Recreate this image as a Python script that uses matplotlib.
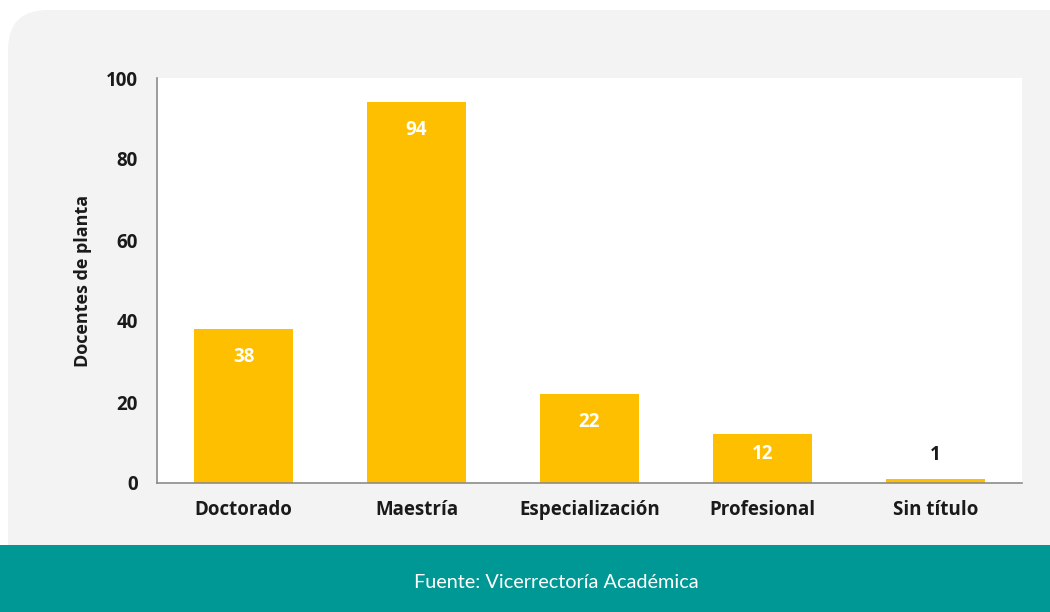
import matplotlib.pyplot as plt
from matplotlib.patches import FancyBboxPatch, Rectangle

categorias = ["Doctorado", "Maestría", "Especialización", "Profesional", "Sin título"]
docentes = [38, 94, 22, 12, 1]
yticks = [0, 20, 40, 60, 80, 100]

W, H = 1050, 612
fig = plt.figure(figsize=(W / 100, H / 100), dpi=100)
fig.patch.set_facecolor("white")

# panel gris con esquina redondeada (la parte baja queda bajo la franja)
panel = FancyBboxPatch((8 / W, 0), 1.2, (H - 10) / H,
                       boxstyle="round,pad=0,rounding_size=0.038",
                       transform=fig.transFigure, facecolor="#f3f3f3",
                       edgecolor="none", zorder=-3, mutation_aspect=W / H)
fig.patches.append(panel)
# franja inferior
fig.patches.append(Rectangle((0, 0), 1, 67 / H, transform=fig.transFigure,
                             facecolor="#009894", edgecolor="none", zorder=-2))
fig.text(0.53, 30 / H, "Fuente: Vicerrectoría Académica", color="white",
         fontsize=14.3, family="Lato", ha="center", va="center")

ax = fig.add_axes([157 / W, (H - 483) / H, (1022 - 157) / W, (483 - 78) / H])
ax.set_facecolor("white")
x = range(len(categorias))
bars = ax.bar(x, docentes, width=0.57, color="#fdbf00", zorder=2)
ax.set_xlim(-0.5, 4.5)
ax.set_ylim(0, 100)
ax.set_yticks(yticks)
ax.set_xticks(list(x))
ax.set_xticklabels(categorias)
for lab in ax.get_xticklabels() + ax.get_yticklabels():
    lab.set_fontweight("bold")
    lab.set_fontsize(13.5)
    lab.set_family("Open Sans")
    lab.set_color("#1a1a1a")
ax.tick_params(length=0)
ax.tick_params(axis="x", pad=12)
ax.tick_params(axis="y", pad=14)
for s in ["top", "right"]:
    ax.spines[s].set_visible(False)
for s in ["left", "bottom"]:
    ax.spines[s].set_color("#8c8c8c")
    ax.spines[s].set_linewidth(1.2)
ax.set_ylabel("Docentes de planta", fontsize=13, fontweight="bold",
              family="Open Sans", labelpad=10, color="#1a1a1a")

px_per_unit = (483 - 78) / 100
for b, v in zip(bars, docentes):
    cx = b.get_x() + b.get_width() / 2
    h_px = v * px_per_unit
    if h_px > 30:
        off = -min(28, h_px * 0.4)
        ax.annotate(str(v), (cx, v), xytext=(0, off), textcoords="offset pixels",
                    ha="center", va="center", color="white", fontsize=13.5,
                    fontweight="bold", family="Open Sans")
    else:
        ax.annotate(str(v), (cx, v), xytext=(0, 24), textcoords="offset pixels",
                    ha="center", va="center", color="#1a1a1a", fontsize=13.5,
                    fontweight="bold", family="Open Sans")

fig.savefig("out.png", dpi=100)
